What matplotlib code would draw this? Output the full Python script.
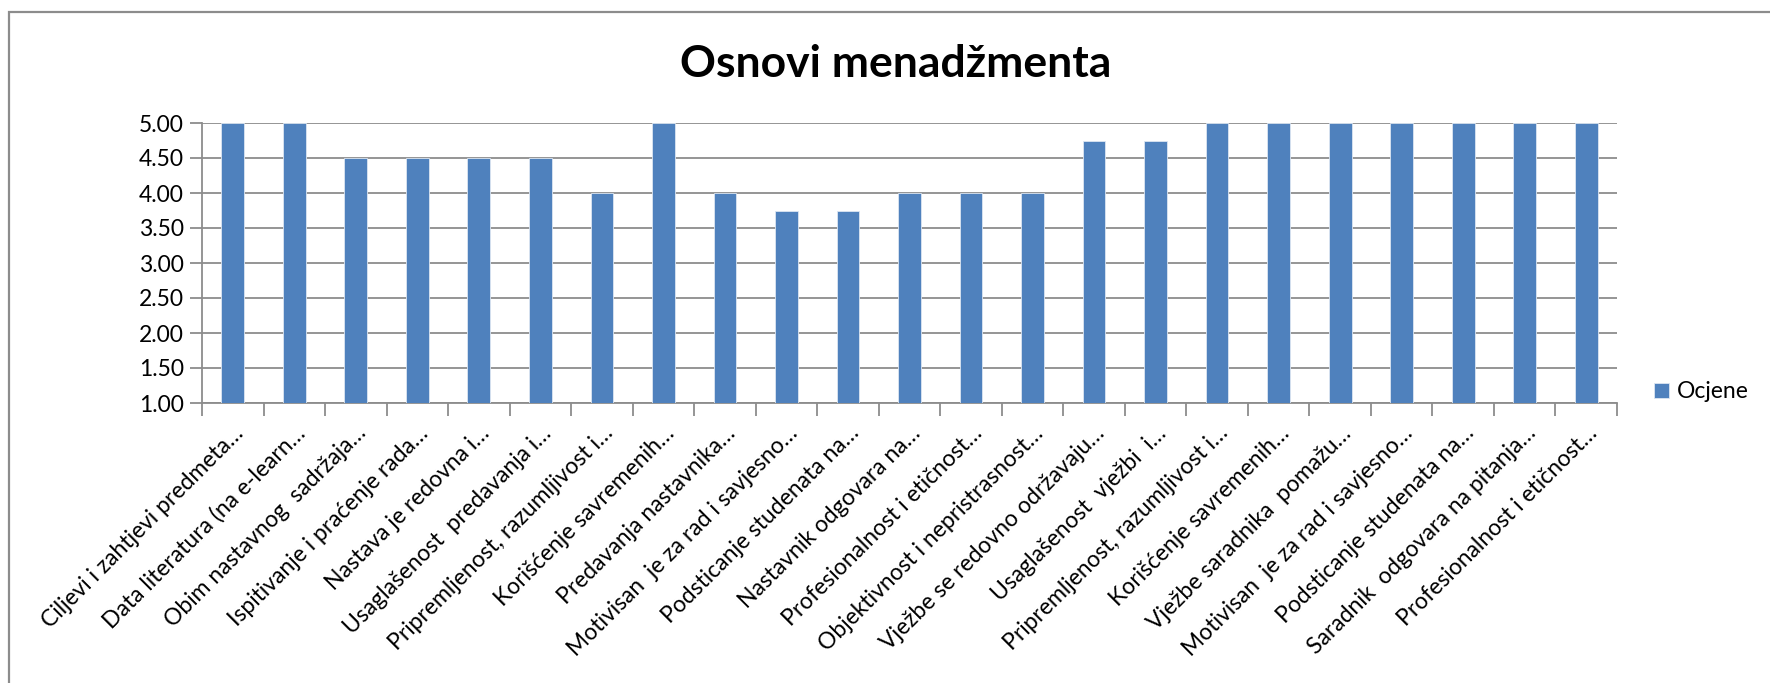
import matplotlib.pyplot as plt
from matplotlib.patches import Rectangle

plt.rcParams['font.family'] = ['Lato', 'DejaVu Sans']

categories = [
    "Ciljevi i zahtjevi predmeta…",
    "Data literatura (na e-learn…",
    "Obim nastavnog  sadržaja…",
    "Ispitivanje i praćenje rada…",
    "Nastava je redovna i…",
    "Usaglašenost  predavanja i…",
    "Pripremljenost, razumljivost i…",
    "Korišćenje savremenih…",
    "Predavanja nastavnika…",
    "Motivisan  je za rad i savjesno…",
    "Podsticanje studenata na…",
    "Nastavnik odgovara na…",
    "Profesionalnost i etičnost…",
    "Objektivnost i nepristrasnost…",
    "Vježbe se redovno održavaju…",
    "Usaglašenost  vježbi  i…",
    "Pripremljenost, razumljivost i…",
    "Korišćenje savremenih…",
    "Vježbe saradnika  pomažu…",
    "Motivisan  je za rad i savjesno…",
    "Podsticanje studenata na…",
    "Saradnik  odgovara na pitanja…",
    "Profesionalnost i etičnost…",
]
ocjene = [5.00, 5.00, 4.50, 4.50, 4.50, 4.50, 4.00, 5.00, 4.00, 3.75, 3.75,
          4.00, 4.00, 4.00, 4.75, 4.75, 5.00, 5.00, 5.00, 5.00, 5.00, 5.00, 5.00]
y_ticks = [1.0, 1.5, 2.0, 2.5, 3.0, 3.5, 4.0, 4.5, 5.0]

grey = '#8c8c8c'
W, H = 1770, 683
fig = plt.figure(figsize=(17.7, 6.83), dpi=100)
# plot area: x 202..1617, y 123..403 (pixels)
ax = fig.add_axes([202 / W, 1 - 403 / H, (1617 - 202) / W, (403 - 123) / H])

x = list(range(len(categories)))
bars = ax.bar(x, [v - 1.0 for v in ocjene], bottom=1.0, width=0.37,
              color='#4F81BD', edgecolor='#dce6f2', linewidth=0.6,
              label='Ocjene', zorder=3)

ax.set_xlim(-0.5, len(categories) - 0.5)
ax.set_ylim(1.0, 5.0)
ax.set_yticks(y_ticks)
ax.set_yticklabels(["%.2f" % t for t in y_ticks], fontsize=16.5)
ax.yaxis.grid(True, color=grey, linewidth=1.3, zorder=0)
ax.tick_params(axis='y', length=9, color=grey, width=1.3, pad=4)

ax.set_xticks(x)
ax.set_xticklabels(categories, rotation=45, ha='right', rotation_mode='anchor',
                   fontsize=16.5)
ax.set_xticks([i - 0.5 for i in range(len(categories) + 1)], minor=True)
ax.tick_params(axis='x', which='major', length=0, pad=14)
ax.tick_params(axis='x', which='minor', length=9, color=grey, width=1.3)

for s in ['top', 'right']:
    ax.spines[s].set_visible(False)
for s in ['left', 'bottom']:
    ax.spines[s].set_color(grey)
    ax.spines[s].set_linewidth(1.3)

fig.text(896 / W, 1 - 77 / H, "Osnovi menadžmenta", ha='center', va='baseline',
         fontsize=32, fontweight='bold')

fig.legend(handles=[bars], loc='center left', bbox_to_anchor=(1654 / W, 1 - 392 / H),
           frameon=False, fontsize=16.5, handlelength=0.65, handleheight=0.65,
           handletextpad=0.35, borderaxespad=0, borderpad=0)

# chart border (right and bottom edges lie outside the image)
fig.patches.append(Rectangle((9 / W, -0.1), 1.2, 1.1 - 12 / H,
                             transform=fig.transFigure, fill=False,
                             edgecolor=grey, linewidth=1.6))

fig.savefig('out.png', dpi=100)
